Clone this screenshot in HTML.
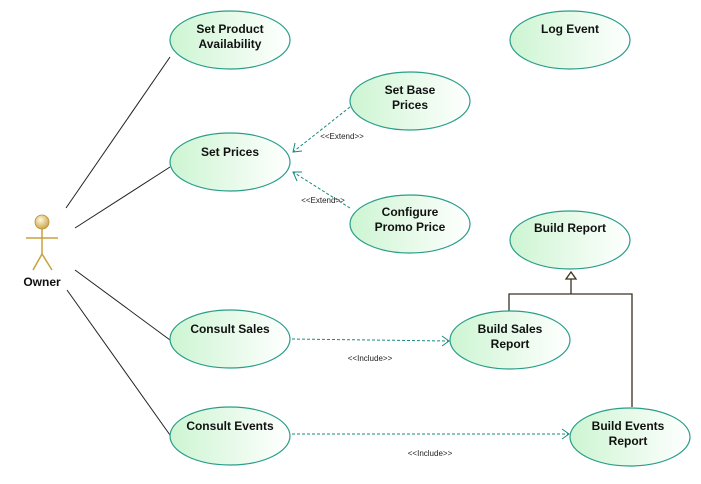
<!DOCTYPE html>
<html><head><style>body{margin:0;background:#fff}</style></head><body>
<svg width="701" height="479" xmlns="http://www.w3.org/2000/svg" font-family="Liberation Sans, sans-serif">
<defs>
<linearGradient id="g" x1="0" x2="1" y1="0" y2="0"><stop offset="0" stop-color="#cdf5d2"/><stop offset="1" stop-color="#ffffff"/></linearGradient>
<radialGradient id="h" cx="0.4" cy="0.35" r="0.7"><stop offset="0" stop-color="#fff8e0"/><stop offset="1" stop-color="#c9a040"/></radialGradient>
</defs>
<g stroke="#222" stroke-width="1">
<line x1="66" y1="208" x2="170" y2="57"/>
<line x1="75" y1="228" x2="170" y2="167"/>
<line x1="75" y1="270" x2="170" y2="340"/>
<line x1="67" y1="290" x2="170" y2="435"/>
</g>
<g stroke="#1a8a80" stroke-width="1" fill="none" stroke-dasharray="3,2">
<line x1="350" y1="107" x2="293" y2="152"/>
<line x1="350" y1="208" x2="293" y2="172"/>
<line x1="292" y1="339" x2="449" y2="341"/>
<line x1="292" y1="434" x2="569" y2="434"/>
</g>
<g stroke="#1a8a80" stroke-width="1" fill="none">
<polyline points="295,143 293,152 302,151"/>
<polyline points="302,172 293,172 297,181"/>
<polyline points="442,336 449,341 442,346"/>
<polyline points="562,429 569,434 562,439"/>
</g>
<g stroke="#3a3020" stroke-width="1.3" fill="none">
<polyline points="509,311 509,294 632,294 632,407"/>
<line x1="571" y1="294" x2="571" y2="279"/>
<polygon points="571,272 566,279 576,279" fill="#fff"/>
</g>
<g font-size="8" fill="#222">
<text x="342" y="139" text-anchor="middle">&lt;&lt;Extend&gt;&gt;</text>
<text x="323" y="203" text-anchor="middle">&lt;&lt;Extend&gt;&gt;</text>
<text x="370" y="361" text-anchor="middle">&lt;&lt;Include&gt;&gt;</text>
<text x="430" y="456" text-anchor="middle">&lt;&lt;Include&gt;&gt;</text>
</g>
<g fill="url(#g)" stroke="#2a9d8a" stroke-width="1.2">
<ellipse cx="230" cy="40" rx="60" ry="29"/>
<ellipse cx="230" cy="162" rx="60" ry="29"/>
<ellipse cx="410" cy="101" rx="60" ry="29"/>
<ellipse cx="410" cy="224" rx="60" ry="29"/>
<ellipse cx="570" cy="40" rx="60" ry="29"/>
<ellipse cx="570" cy="240" rx="60" ry="29"/>
<ellipse cx="230" cy="339" rx="60" ry="29"/>
<ellipse cx="510" cy="340" rx="60" ry="29"/>
<ellipse cx="230" cy="436" rx="60" ry="29"/>
<ellipse cx="630" cy="437" rx="60" ry="29"/>
</g>
<g font-size="12" font-weight="bold" fill="#111" text-anchor="middle">
<text x="230" y="33">Set Product</text><text x="230" y="48">Availability</text>
<text x="230" y="156">Set Prices</text>
<text x="410" y="94">Set Base</text><text x="410" y="109">Prices</text>
<text x="410" y="216">Configure</text><text x="410" y="231">Promo Price</text>
<text x="570" y="33">Log Event</text>
<text x="570" y="232">Build Report</text>
<text x="230" y="333">Consult Sales</text>
<text x="510" y="333">Build Sales</text><text x="510" y="348">Report</text>
<text x="230" y="430">Consult Events</text>
<text x="628" y="430">Build Events</text><text x="628" y="445">Report</text>
<text x="42" y="286">Owner</text>
</g>
<g stroke="#c9a040" stroke-width="1.5" fill="none">
<line x1="26" y1="238" x2="58" y2="238"/>
<line x1="42" y1="229" x2="42" y2="254"/>
<polyline points="33,270 42,254 52,270"/>
</g>
<circle cx="42" cy="222" r="7" fill="url(#h)" stroke="#b89030" stroke-width="0.8"/>
</svg>
</body></html>
